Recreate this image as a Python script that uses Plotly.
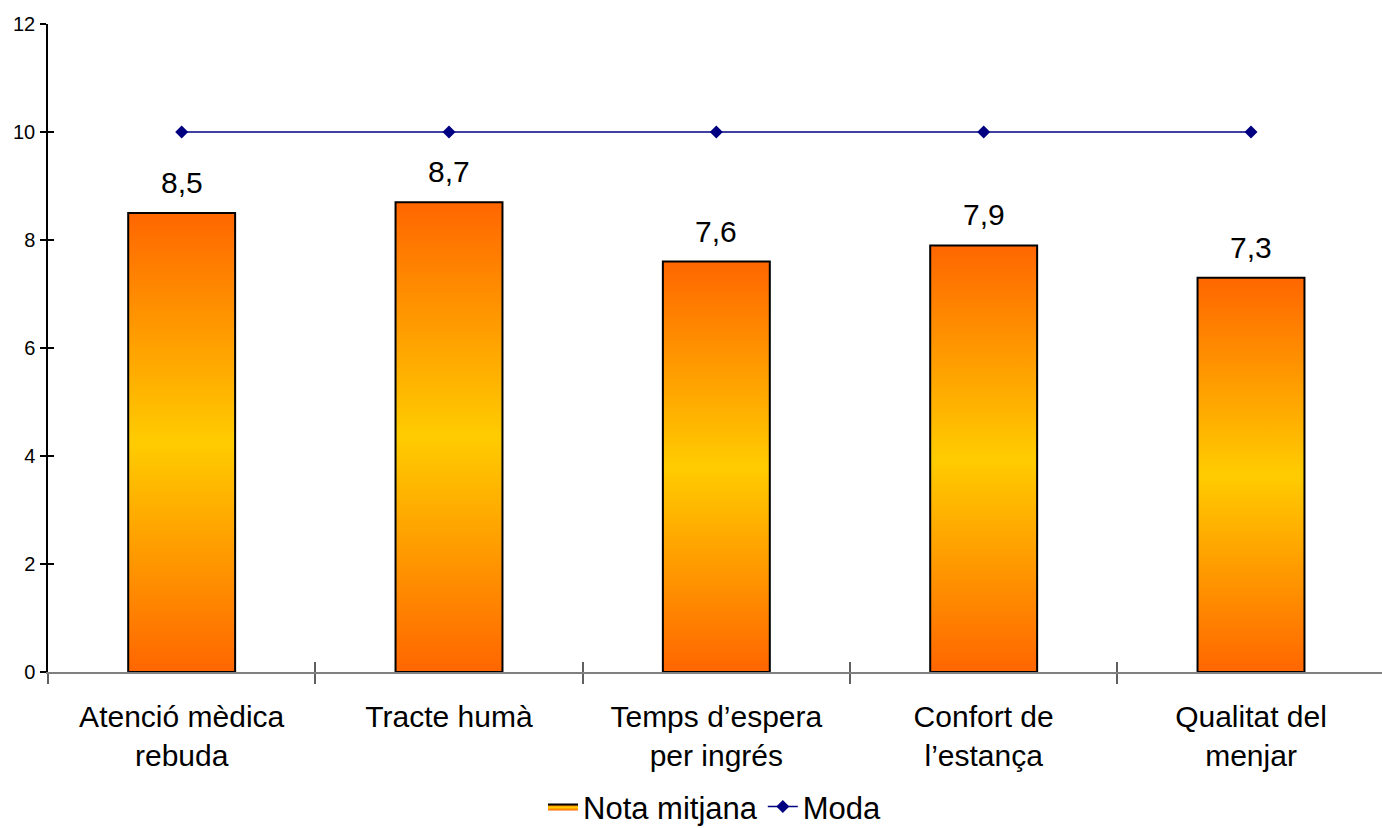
import plotly.graph_objects as go

categories = ["Atenció mèdica<br>rebuda", "Tracte humà", "Temps d’espera<br>per ingrés",
              "Confort de<br>l’estança", "Qualitat del<br>menjar"]
nota_mitjana = [8.5, 8.7, 7.6, 7.9, 7.3]
moda = [10, 10, 10, 10, 10]
y_ticks = [0, 2, 4, 6, 8, 10, 12]

FONT = "Liberation Sans, Arial, sans-serif"
BAR_HALF = 0.2
xpos = list(range(len(categories)))
bounds = [i - 0.5 for i in range(len(categories) + 1)]
grad = [[0, "#FF6600"], [0.5, "#FFCC00"], [1, "#FF6600"]]

fig = go.Figure()

for i, v in enumerate(nota_mitjana):
    fig.add_trace(go.Scatter(
        x=[i - BAR_HALF, i - BAR_HALF, i + BAR_HALF, i + BAR_HALF, i - BAR_HALF],
        y=[0, v, v, 0, 0],
        mode="lines", fill="toself",
        fillgradient=dict(type="vertical", colorscale=grad),
        line=dict(color="black", width=2),
        name="Nota mitjana", legendgroup="nota",
        showlegend=(i == 0), hoverinfo="skip",
    ))

fig.add_trace(go.Scatter(
    x=xpos, y=moda, mode="lines+markers", name="Moda",
    line=dict(color="#000080", width=1.5),
    marker=dict(symbol="diamond", size=10, color="#000080"),
))

# dummy trace for overlay axes (crossing tick marks)
fig.add_trace(go.Scatter(x=[None], y=[None], xaxis="x2", yaxis="y2",
                         showlegend=False, hoverinfo="skip"))

for i, v in enumerate(nota_mitjana):
    fig.add_annotation(x=i, y=v, text=f"{v:.1f}".replace(".", ","),
                       showarrow=False, yanchor="bottom", yshift=12,
                       font=dict(family=FONT, size=30, color="black"))

xr = [-0.5, 4.49]
yr = [0, 12]
fig.update_layout(
    width=1382, height=828,
    margin=dict(l=48, r=0, t=24, b=156, autoexpand=False),
    paper_bgcolor="white", plot_bgcolor="white",
    font=dict(family=FONT, color="black"),
    showlegend=True,
    legend=dict(orientation="h", x=0.5, xanchor="center", y=-0.208, yanchor="middle",
                font=dict(family=FONT, size=31, color="black"), traceorder="normal"),
    xaxis=dict(range=xr, tickmode="array", tickvals=xpos, ticktext=categories,
               ticks="", showgrid=False, zeroline=False,
               showline=True, linecolor="#808080", linewidth=2,
               tickfont=dict(family=FONT, size=30, color="black"),
               ticklabelstandoff=17,
               minor=dict(tickmode="array", tickvals=bounds, ticks="outside",
                          ticklen=10, tickcolor="#606060", tickwidth=1.5)),
    yaxis=dict(range=yr, tickmode="array", tickvals=y_ticks, ticks="outside",
               ticklen=6, tickcolor="black", tickwidth=1.5,
               showgrid=False, zeroline=False, showline=True, linecolor="black",
               linewidth=1.5, tickfont=dict(family=FONT, size=20, color="black"),
               ticklabelstandoff=1),
    xaxis2=dict(overlaying="x", range=xr, tickmode="array", tickvals=bounds,
                ticks="inside", ticklen=10, tickcolor="#606060", tickwidth=1.5,
                showticklabels=False, showgrid=False, zeroline=False, showline=False,
                side="bottom"),
    yaxis2=dict(overlaying="y", range=yr, tickmode="array", tickvals=y_ticks,
                ticks="inside", ticklen=6, tickcolor="black", tickwidth=1.5,
                showticklabels=False, showgrid=False, zeroline=False, showline=False,
                side="left"),
)

fig.write_html("out.html")
